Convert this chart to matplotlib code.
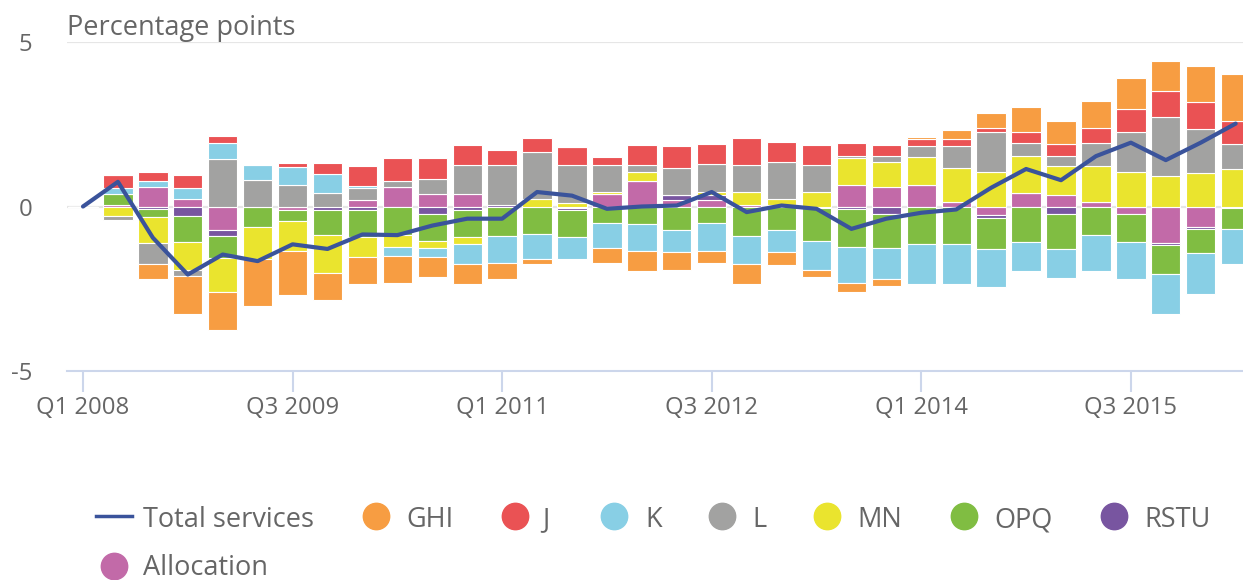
import numpy as np
import matplotlib
matplotlib.use('Agg')
import matplotlib.pyplot as plt
from matplotlib.lines import Line2D

plt.rcParams['font.family'] = ['Open Sans', 'DejaVu Sans']

### data (Q1 2008 .. Q2 2016)
quarters = ['Q%d %d' % (q, y) for y in range(2008, 2017) for q in range(1, 5)][:34]

total = [0.0, 0.75, -0.95, -2.07, -1.46, -1.66, -1.15, -1.29, -0.85, -0.87,
         -0.58, -0.37, -0.37, 0.44, 0.33, -0.07, 0.0, 0.03, 0.44, -0.17,
         0.03, -0.07, -0.68, -0.37, -0.19, -0.09, 0.57, 1.14, 0.8, 1.53,
         1.94, 1.41, 1.94, 2.52]
ghi = [0, 0, -0.46, -1.14, -1.14, -1.42, -1.35, -0.81, -0.83, -0.83,
       -0.63, -0.61, -0.48, -0.13, 0, -0.47, -0.61, -0.56, -0.38, -0.61,
       -0.4, -0.2, -0.27, -0.2, 0.06, 0.28, 0.44, 0.77, 0.7, 0.83,
       0.96, 0.89, 1.09, 1.43]
j = [0, 0.4, 0.27, 0.4, 0.2, 0, 0.13, 0.33, 0.61, 0.68,
     0.61, 0.61, 0.47, 0.41, 0.55, 0.26, 0.61, 0.68, 0.61, 0.82,
     0.61, 0.61, 0.41, 0.34, 0.2, 0.2, 0.13, 0.32, 0.38, 0.46,
     0.69, 0.81, 0.83, 0.68]
k = [0, 0.2, 0.2, 0.35, 0.49, 0.43, 0.54, 0.56, 0.07, -0.26,
     -0.26, -0.61, -0.83, -0.76, -0.68, -0.76, -0.84, -0.68, -0.84, -0.83,
     -0.68, -0.89, -1.09, -0.96, -1.2, -1.22, -1.16, -0.89, -0.88, -1.08,
     -1.14, -1.22, -1.24, -1.09]
l = [0, -0.12, -0.63, -0.2, 1.45, 0.82, 0.65, 0.42, 0.35, 0.2,
     0.48, 0.88, 1.22, 1.45, 1.14, 0.81, 0.2, 0.81, 0.87, 0.81,
     1.1, 0.81, 0.06, 0.2, 0.34, 0.68, 1.22, 0.41, 0.28, 0.69,
     1.22, 1.77, 1.35, 0.76]
mn = [0, -0.3, -0.81, -0.83, -1.03, -0.98, -0.91, -1.17, -0.59, -0.37,
      -0.2, -0.22, 0, 0.22, 0.12, 0.07, 0.27, 0, 0.08, 0.4,
      0.2, 0.45, 0.81, 0.74, 0.87, 1.03, 1.04, 1.11, 0.88, 1.1,
      1.04, 0.94, 1.01, 1.15]
opq = [0, 0.33, -0.23, -0.81, -0.68, -0.63, -0.33, -0.76, -0.84, -0.87,
       -0.83, -0.82, -0.9, -0.85, -0.82, -0.5, -0.52, -0.7, -0.5, -0.91,
       -0.7, -1.0, -1.16, -1.03, -1.15, -1.15, -0.94, -1.07, -1.04, -0.88,
       -0.83, -0.88, -0.74, -0.61]
rstu = [0, 0, -0.08, -0.28, -0.2, 0, 0, -0.1, -0.1, 0,
        -0.23, -0.1, 0.04, 0, -0.04, 0, 0, 0.15, 0.15, 0,
        0, 0, -0.07, -0.22, 0, 0, -0.07, 0, -0.24, 0,
        0, -0.06, -0.06, -0.06]
alloc = [0, 0.04, 0.58, 0.22, -0.7, 0, -0.1, 0, 0.21, 0.58,
         0.37, 0.37, 0, 0, -0.06, 0.37, 0.78, 0.21, 0.2, 0.04,
         0.04, -0.04, 0.66, 0.6, 0.64, 0.14, -0.27, 0.42, 0.36, 0.14,
         -0.24, -1.1, -0.61, 0]

series_names = ['GHI', 'J', 'K', 'L', 'MN', 'OPQ', 'RSTU', 'Allocation']
series_vals = [ghi, j, k, l, mn, opq, rstu, alloc]
colors = ['#F79D42', '#EA5254', '#88CFE5', '#A2A2A1', '#EAE42E', '#80BD42', '#7855A0', '#C26AA8']
line_color = '#3A539B'
text_color = '#666666'

W, H = 1243, 580
fig = plt.figure(figsize=(W / 100, H / 100), dpi=100)
ax = fig.add_axes([67 / W, 1 - 371 / H, 1 - 67 / W, (371 - 42) / H])

x = np.arange(len(quarters))
pos_bottom = np.zeros(len(x))
neg_bottom = np.zeros(len(x))
# stack from zero outwards: last series sits next to zero
for name, vals, c in reversed(list(zip(series_names, series_vals, colors))):
    v = np.array(vals, dtype=float)
    bottom = np.where(v >= 0, pos_bottom, neg_bottom)
    ax.bar(x, v, bottom=bottom, width=0.84, color=c, edgecolor='white',
           linewidth=0.8, zorder=2)
    pos_bottom += np.where(v >= 0, v, 0)
    neg_bottom += np.where(v < 0, v, 0)

ax.plot(x, total, color=line_color, linewidth=3, zorder=4,
        solid_joinstyle='round', solid_capstyle='round')

ax.set_xlim(-0.458, 33.21)
ax.set_ylim(-5, 5)
ax.set_yticks([-5, 0, 5])
ax.set_yticklabels(['-5', '0', '5'])
for yv in [0, 5]:
    ax.axhline(yv, color='#e6e6e6', linewidth=1.6, zorder=1)

ticks = list(range(0, 34, 6))
ax.set_xticks(ticks)
ax.set_xticklabels([quarters[t] for t in ticks])
ax.tick_params(axis='x', length=15, width=1.5, color='#ccd6eb', pad=3,
               labelsize=17.2, labelcolor=text_color)
ax.tick_params(axis='y', length=0, pad=25, labelsize=17.2, labelcolor=text_color)

for s in ['top', 'right', 'left']:
    ax.spines[s].set_visible(False)
ax.spines['bottom'].set_color('#ccd6eb')
ax.spines['bottom'].set_linewidth(1.5)
ax.spines['bottom'].set_position(('data', -5))

fig.text(67 / W, 1 - 35 / H, 'Percentage points', color=text_color,
         fontsize=19.5, va='baseline', ha='left')

### legend, drawn by hand
def fx(px):
    return px / W

def fy(py):
    return 1 - py / H

row1, row2 = 516, 566
base1, base2 = 527, 575
fig.add_artist(Line2D([fx(96), fx(132)], [fy(row1), fy(row1)], color=line_color,
                      linewidth=2.5, transform=fig.transFigure))
fig.text(fx(143), fy(base1), 'Total services', color=text_color, fontsize=19.5,
         va='baseline', ha='left')
legend_pos = [(376, 406, row1, base1), (515, 542, row1, base1), (614, 645, row1, base1),
              (722, 752, row1, base1), (827, 857, row1, base1), (964, 994, row1, base1),
              (1114, 1144, row1, base1), (114, 143, row2, base2)]
for (cx, tx, ry, by), name, c in zip(legend_pos, series_names, colors):
    fig.add_artist(Line2D([fx(cx)], [fy(ry)], marker='o', markersize=19,
                          color=c, linestyle='none', transform=fig.transFigure))
    fig.text(fx(tx), fy(by), name, color=text_color, fontsize=19.5,
             va='baseline', ha='left')

plt.savefig('out.png', dpi=100)
